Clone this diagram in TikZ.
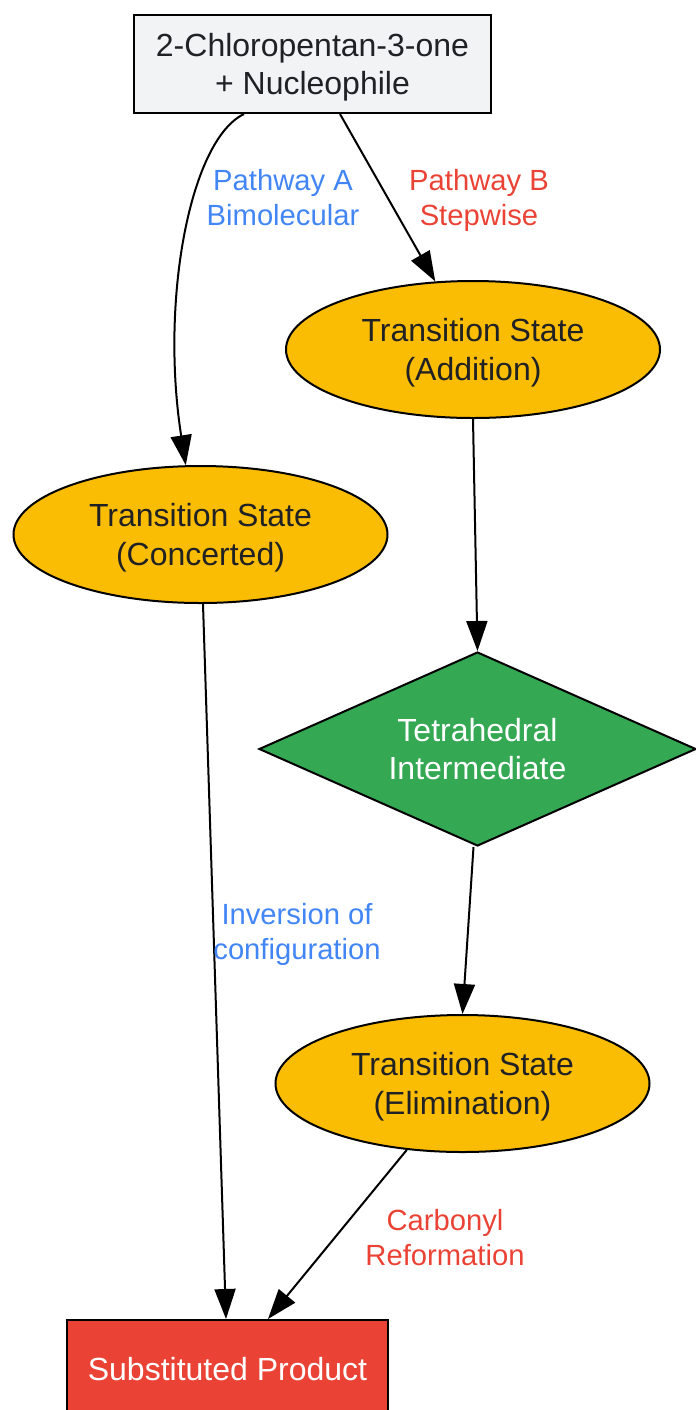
\documentclass[tikz,border=0pt]{standalone}
\usepackage{fontspec}
\setmainfont{Liberation Sans}
\usetikzlibrary{shapes.geometric,arrows.meta,calc}
\definecolor{boxgray}{HTML}{F1F3F4}
\definecolor{tsyellow}{HTML}{FBBC04}
\definecolor{intgreen}{HTML}{34A853}
\definecolor{prodred}{HTML}{EA4335}
\definecolor{lblblue}{HTML}{4285F4}
\definecolor{lblred}{HTML}{EA4335}
\definecolor{txtdark}{HTML}{202124}
\tikzset{
  x=0.5pt, y=-0.5pt,
  base/.style={draw=black, line width=1pt, inner sep=0pt, align=center,
    text depth=0pt, font=\fontsize{16}{19.2}\selectfont},
  rectbox/.style={base, rectangle, fill=boxgray, text=txtdark},
  tsnode/.style={base, ellipse, fill=tsyellow, text=txtdark,
    minimum width=187pt, minimum height=68.5pt},
  intnode/.style={base, diamond, aspect=2.25, fill=intgreen, text=white,
    minimum width=218.5pt, minimum height=97pt},
  prodbox/.style={base, rectangle, fill=prodred, text=white,
    minimum width=160.5pt, minimum height=49pt},
  conn/.style={draw=black, line width=1pt, -{Triangle[length=15pt,width=10.5pt]}},
  lbl/.style={align=center, inner sep=0pt, text depth=0pt,
    font=\fontsize{14.6}{17.5}\selectfont},
}
\begin{document}
\begin{tikzpicture}
\useasboundingbox (0,0) rectangle (696,1410);
\node[rectbox, minimum width=178.5pt, minimum height=49pt] (top) at (312.5,64)
  {2-Chloropentan-3-one\\+ Nucleophile};
\node[tsnode] (add) at (473,349.5) {Transition State\\(Addition)};
\node[tsnode] (conc) at (200.5,534.5) {Transition State\\(Concerted)};
\node[intnode] (int) at (477.5,749) {Tetrahedral\\Intermediate};
\node[tsnode] (elim) at (462.5,1083.5) {Transition State\\(Elimination)};
\node[prodbox] (prod) at (227.5,1369) {Substituted Product};

\coordinate (a0) at ($(top.south)+(-68.5,0)$);
\draw[conn] (a0) .. controls (190,140) and (160,300) .. (conc.102);
\draw[conn] ($(top.south)+(27.5,0)$) -- (add.119);
\draw[conn] (add.south) -- (int.north);
\draw[conn] ($(int.south)+(-4,0)$) -- (elim.north);
\draw[conn] ($(conc.south)+(2.5,0)$) -- ($(prod.north)+(-1.5,0)$);
\draw[conn] (elim.230) -- ($(prod.north)+(40.5,0)$);

\node[lbl, text=lblblue] (la) at (283,197) {Pathway A\\Bimolecular};
\node[lbl, text=lblred] (lb) at (479,197) {Pathway B\\Stepwise};
\node[lbl, text=lblblue] (lc) at (297,931) {Inversion of\\configuration};
\node[lbl, text=lblred] (ld) at (445,1237) {Carbonyl\\Reformation};
\end{tikzpicture}
\end{document}
